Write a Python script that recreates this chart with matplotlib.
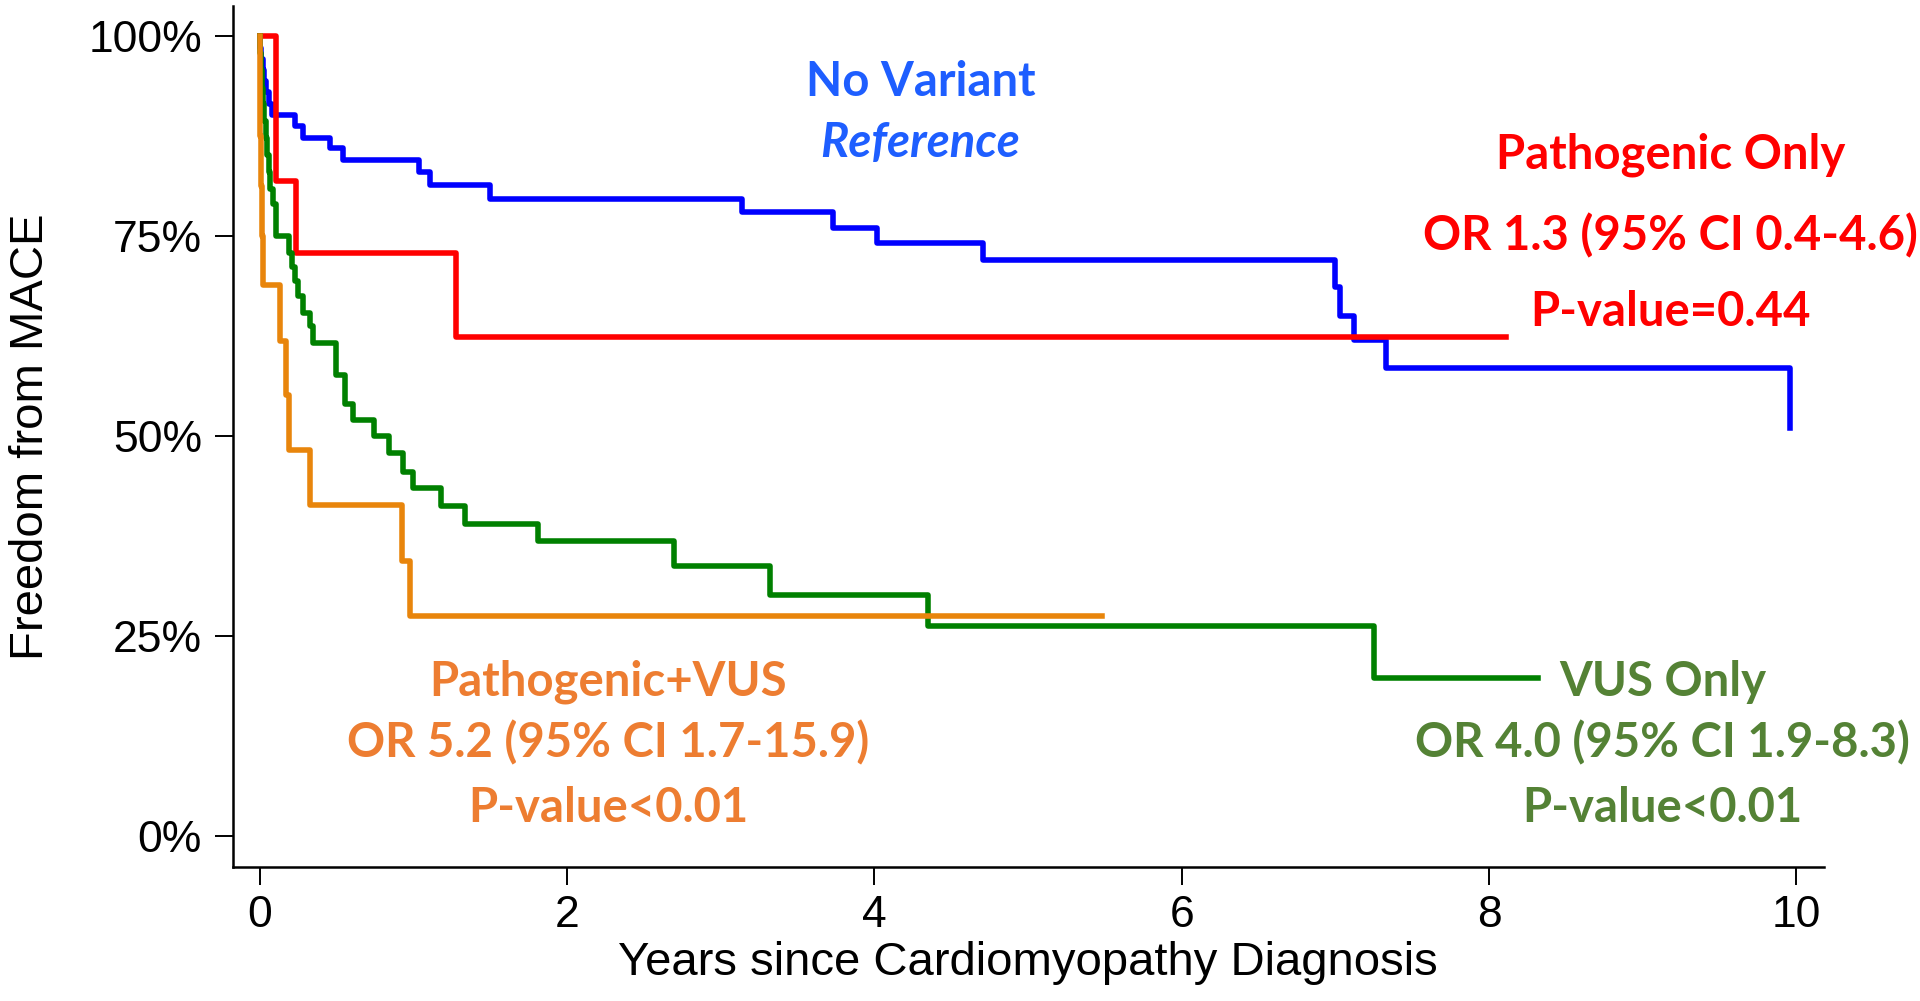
import matplotlib.pyplot as plt

# Kaplan-Meier style curves (years, % free from MACE)
novar_t = [0, 0.005, 0.01, 0.02, 0.03, 0.045, 0.06, 0.08, 0.23, 0.285, 0.46, 0.54,
           1.04, 1.11, 1.50, 3.14, 3.73, 4.02, 4.71, 7.00, 7.03, 7.12, 7.33, 9.96]
novar_s = [100, 98.6, 97.2, 95.8, 94.4, 93.0, 91.6, 90.2, 88.8, 87.3, 86.0, 84.5,
           83.0, 81.4, 79.7, 78.0, 76.1, 74.2, 72.1, 68.7, 65.1, 62.0, 58.5, 51.0]

path_t = [0, 0.107, 0.24, 1.28, 8.11]
path_s = [100, 81.9, 72.9, 62.4, 62.4]

vus_t = [0, 0.005, 0.01, 0.015, 0.02, 0.03, 0.04, 0.05, 0.06, 0.07, 0.085, 0.105,
         0.19, 0.21, 0.23, 0.25, 0.285, 0.33, 0.35, 0.50, 0.556, 0.61, 0.744, 0.84,
         0.935, 1.0, 1.18, 1.34, 1.81, 2.70, 3.32, 4.35, 7.25, 8.32]
vus_s = [100, 97.9, 95.8, 93.6, 91.5, 89.4, 87.3, 85.2, 83.0, 80.9, 79.0, 75.0,
         72.9, 71.2, 69.4, 67.5, 65.4, 63.8, 61.7, 57.7, 54.0, 52.1, 50.0, 47.9,
         45.6, 43.5, 41.3, 39.1, 36.9, 33.8, 30.1, 26.3, 19.8, 19.8]

pvus_t = [0, 0.003, 0.006, 0.01, 0.015, 0.02, 0.133, 0.173, 0.194, 0.328, 0.93, 0.98, 5.48]
pvus_s = [100, 93.8, 87.5, 81.3, 75.0, 68.9, 61.9, 55.2, 48.3, 41.4, 34.4, 27.5, 27.5]

yticks = [0, 25, 50, 75, 100]
ytick_labels = ['0%', '25%', '50%', '75%', '100%']
xticks = [0, 2, 4, 6, 8, 10]

fig = plt.figure(figsize=(19.2, 10.01), dpi=100)
ax = fig.add_axes([0.1211, 0.1339, 0.8289, 0.8601])

lw = 4.0
ax.step(novar_t, novar_s, where='post', color='#0000FF', lw=lw)
ax.step(path_t, path_s, where='post', color='#FF0000', lw=lw)
ax.step(vus_t, vus_s, where='post', color='#008000', lw=lw)
ax.step(pvus_t, pvus_s, where='post', color='#E8850C', lw=lw)

ax.set_xlim(-0.176, 10.18)
ax.set_ylim(-3.84, 103.8)
ax.set_xticks(xticks)
ax.set_yticks(yticks)
ax.set_yticklabels(ytick_labels)

for side in ['top', 'right']:
    ax.spines[side].set_visible(False)
for side in ['left', 'bottom']:
    ax.spines[side].set_linewidth(1.8)

axis_font = 'Liberation Sans'
ax.tick_params(axis='y', length=13, width=1.4, labelsize=32, pad=9)
ax.tick_params(axis='x', length=13, width=1.4, labelsize=32, pad=7)
for lab in ax.get_xticklabels() + ax.get_yticklabels():
    lab.set_family(axis_font)

ax.set_xlabel('Years since Cardiomyopathy Diagnosis', fontsize=34, family=axis_font, labelpad=4)
ax.set_ylabel('Freedom from MACE', fontsize=34, family=axis_font, labelpad=25)

ann = dict(ha='center', va='center', fontsize=34, fontweight='bold', family='Lato')

ax.text(4.30, 94.3, 'No Variant', color='#1E5EFF', **ann)
ax.text(4.30, 86.7, 'Reference', color='#1E5EFF', style='italic', **ann)

ax.text(9.18, 85.2, 'Pathogenic Only', color='#FF0000', **ann)
ax.text(9.18, 75.1, 'OR 1.3 (95% CI 0.4-4.6)', color='#FF0000', **ann)
ax.text(9.18, 65.6, 'P-value=0.44', color='#FF0000', **ann)

ax.text(2.27, 19.3, 'Pathogenic+VUS', color='#ED7D31', **ann)
ax.text(2.27, 11.7, 'OR 5.2 (95% CI 1.7-15.9)', color='#ED7D31', **ann)
ax.text(2.27, 3.5, 'P-value<0.01', color='#ED7D31', **ann)

ax.text(9.13, 19.3, 'VUS Only', color='#548235', **ann)
ax.text(9.13, 11.7, 'OR 4.0 (95% CI 1.9-8.3)', color='#548235', **ann)
ax.text(9.13, 3.5, 'P-value<0.01', color='#548235', **ann)

fig.savefig('out.png', dpi=100)
